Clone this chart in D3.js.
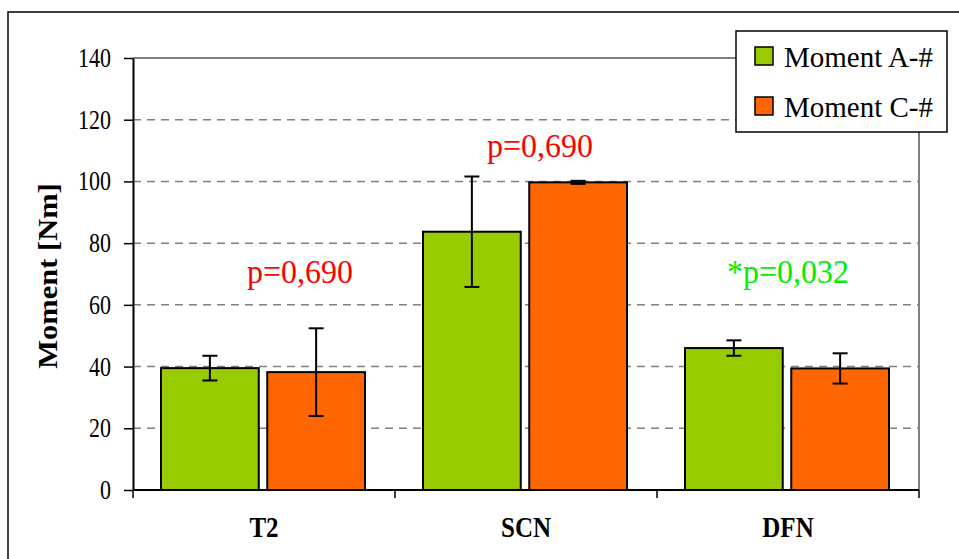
<!DOCTYPE html>
<html><head><meta charset="utf-8">
<script src="https://cdn.jsdelivr.net/npm/d3@7"></script>
<style>body{margin:0;background:#fff}svg{display:block}</style>
</head><body>
<script>
const categories = ["T2", "SCN", "DFN"];
const seriesNames = ["Moment A-#", "Moment C-#"];
const momentA = [39.5, 83.7, 46.0];
const momentAErr = [4.0, 17.9, 2.5];
const momentC = [38.2, 99.7, 39.4];
const momentCErr = [14.2, 0.5, 4.9];
const pLabels = ["p=0,690", "p=0,690", "*p=0,032"];
const pLabelLevel = [67, 108, 67];
const pColors = ["#ff0000", "#ff0000", "#00ee00"];
const yTicks = [0, 20, 40, 60, 80, 100, 120, 140];
const colors = ["#99cc00", "#ff6600"];

(function () {
const FONT = "Liberation Serif";
const W = 959, H = 559;
const svg = d3.select("body").append("svg").attr("width", W).attr("height", H)
  .attr("font-family", FONT);

svg.append("rect").attr("x", 8).attr("y", 12).attr("width", 1000).attr("height", 700)
  .attr("fill", "none").attr("stroke", "#000").attr("stroke-width", 1.5);

const pl = 133, pr = 919, pt = 58, pb = 490;
const x = d3.scaleBand().domain(categories).range([pl, pr]).padding(0);
const xs = d3.scaleBand().domain(seriesNames).range([28, 232]).paddingInner(0.08);
const y = d3.scaleLinear().domain([0, 140]).range([pb, pt]);

// grid lines
svg.append("g").selectAll("line").data(yTicks.filter(t => t > 0 && t < 140)).join("line")
  .attr("x1", pl).attr("x2", pr).attr("y1", d => y(d)).attr("y2", d => y(d))
  .attr("stroke", "#808080").attr("stroke-width", 1.5).attr("stroke-dasharray", "8,6");

// plot border top/right
svg.append("path").attr("d", `M${pl},${y(140)}H${pr}V${pb}`)
  .attr("fill", "none").attr("stroke", "#808080").attr("stroke-width", 2);

// bars
const data = categories.map((c, i) => ({c, vals: [
  {s: seriesNames[0], v: momentA[i], e: momentAErr[i], col: colors[0]},
  {s: seriesNames[1], v: momentC[i], e: momentCErr[i], col: colors[1]}]}));
const g = svg.append("g").selectAll("g").data(data).join("g")
  .attr("transform", d => `translate(${x(d.c)},0)`);
g.selectAll("rect").data(d => d.vals).join("rect")
  .attr("x", d => xs(d.s)).attr("width", xs.bandwidth())
  .attr("y", d => y(d.v)).attr("height", d => y(0) - y(d.v))
  .attr("fill", d => d.col).attr("stroke", "#000").attr("stroke-width", 2);

// error bars
const eb = g.selectAll("g.eb").data(d => d.vals).join("g").attr("class", "eb")
  .attr("transform", d => `translate(${xs(d.s) + xs.bandwidth() / 2},0)`);
eb.append("line").attr("y1", d => y(d.v + d.e)).attr("y2", d => y(d.v - d.e))
  .attr("stroke", "#000").attr("stroke-width", 2);
eb.append("line").attr("x1", -7.5).attr("x2", 7.5).attr("y1", d => y(d.v + d.e)).attr("y2", d => y(d.v + d.e))
  .attr("stroke", "#000").attr("stroke-width", 2);
eb.append("line").attr("x1", -7.5).attr("x2", 7.5).attr("y1", d => y(d.v - d.e)).attr("y2", d => y(d.v - d.e))
  .attr("stroke", "#000").attr("stroke-width", 2);

// y axis
const ya = svg.append("g").attr("transform", `translate(${pl},0)`)
  .call(d3.axisLeft(y).tickValues(yTicks).tickSize(9).tickPadding(13).tickSizeOuter(0));
ya.attr("font-family", FONT).attr("font-size", 22);
ya.select(".domain").attr("stroke", "#000").attr("stroke-width", 2);
ya.selectAll(".tick line").attr("stroke", "#000").attr("stroke-width", 1.5);
ya.selectAll(".tick text").attr("font-size", 22).attr("fill", "#000")
  .attr("font-family", FONT).attr("transform", "scale(1,1.2)");

// x axis
svg.append("line").attr("x1", pl).attr("x2", pr).attr("y1", pb).attr("y2", pb)
  .attr("stroke", "#000").attr("stroke-width", 2);
const edges = categories.map(c => x(c)).concat([x(categories[categories.length - 1]) + x.bandwidth()]);
svg.append("g").selectAll("line").data(edges).join("line")
  .attr("x1", d => d).attr("x2", d => d).attr("y1", pb).attr("y2", pb + 8)
  .attr("stroke", "#000").attr("stroke-width", 1.5);
svg.append("g").selectAll("text").data(categories).join("text")
  .attr("transform", d => `translate(${x(d) + x.bandwidth() / 2},537) scale(1,1.15)`)
  .attr("font-family", FONT)
  .attr("text-anchor", "middle").attr("font-weight", "bold").attr("font-size", 25).text(d => d);

// y title
svg.append("text").attr("transform", "translate(57,276) rotate(-90) scale(1.13,1)")
  .attr("font-family", FONT)
  .attr("text-anchor", "middle").attr("font-weight", "bold").attr("font-size", 27).text("Moment [Nm]");

// p-value labels
const pShift = [36, 14, 0];
svg.append("g").selectAll("text").data(categories).join("text")
  .attr("transform", (d, i) => `translate(${x(d) + x.bandwidth() / 2 + pShift[i]},${y(pLabelLevel[i])}) scale(1,1.07)`)
  .attr("font-family", FONT)
  .attr("text-anchor", "middle").attr("font-size", 32)
  .attr("fill", (d, i) => pColors[i]).text((d, i) => pLabels[i]);

// legend
const lg = svg.append("g").attr("transform", "translate(736,31)");
lg.append("rect").attr("width", 211).attr("height", 101).attr("fill", "#fff")
  .attr("stroke", "#000").attr("stroke-width", 1.5);
const li = lg.selectAll("g").data(seriesNames).join("g")
  .attr("transform", (d, i) => `translate(19,${16 + i * 50})`);
li.append("rect").attr("width", 18).attr("height", 18).attr("fill", (d, i) => colors[i])
  .attr("stroke", "#000").attr("stroke-width", 1.5);
li.append("text").attr("x", 29).attr("y", 20).attr("font-family", FONT)
  .attr("font-size", 29).text(d => d);
})();
</script>
</body></html>
